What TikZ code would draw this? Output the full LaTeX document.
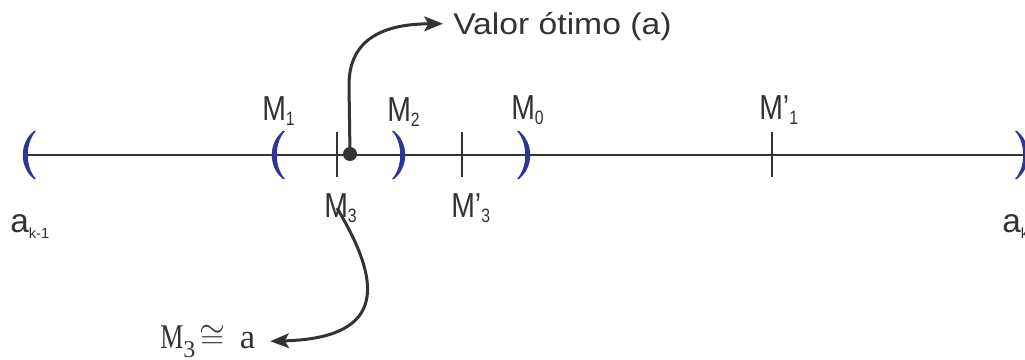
\documentclass[tikz,border=0pt]{standalone}
\usepackage{fontspec}
\setmainfont{Liberation Sans}
\newfontfamily\tnr{Liberation Serif}
\usetikzlibrary{arrows.meta}
\definecolor{ink}{RGB}{51,51,51}
\definecolor{pblue}{RGB}{48,52,148}
\newcommand{\Mlab}[2]{\scalebox{0.82}[1]{\fontsize{26}{26}\selectfont M#1\raisebox{-3.75pt}{\fontsize{14.5}{14.5}\selectfont #2}}}
\newcommand{\Alab}[1]{{\fontsize{25}{25}\selectfont a}\raisebox{-4.5pt}{\fontsize{11}{11}\selectfont #1}}
\tikzset{
  lbl/.style={inner sep=0pt, anchor=base west, text=ink},
  conn/.style={draw=ink, line width=2.25pt, -{Stealth[length=14pt,width=11pt,inset=3pt]}},
  axis/.style={draw=ink, line width=2.2pt},
  tick/.style={draw=ink, line width=2pt},
  lpar/.pic={\fill[pblue] (0,-24) .. controls (-15,-12) and (-15,12) .. (0,24) -- (2,24) .. controls (-9,12) and (-9,-12) .. (2,-24) -- cycle;},
  rpar/.pic={\fill[pblue] (0,-24) .. controls (15,-12) and (15,12) .. (0,24) -- (-2,24) .. controls (9,12) and (9,-12) .. (-2,-24) -- cycle;}
}
\begin{document}
\begin{tikzpicture}[x=0.75pt,y=-0.75pt]
\useasboundingbox (0,0) rectangle (1025,360);
\clip (0,0) rectangle (1025,360);
% axis
\coordinate (A) at (23,155);
\coordinate (B) at (1030,155);
\draw[axis] (A) -- (B);
% brackets
\pic at (34,155) {lpar};
\pic at (283,155) {lpar};
\pic at (394,155) {rpar};
\pic at (519,155) {rpar};
\pic at (1017,155) {rpar};
% ticks
\draw[tick] (337,132) -- (337,177);
\draw[tick] (462,132) -- (462,177);
\draw[tick] (772,132) -- (772,177);
% optimum point
\node[circle, fill=ink, inner sep=0pt, minimum size=10.5pt] (opt) at (350,154) {};
% labels
\node[lbl] (m1) at (262,121) {\Mlab{}{1}};
\node[lbl] (m2) at (387,122) {\Mlab{}{2}};
\node[lbl] (m0) at (511,120) {\Mlab{}{0}};
\node[lbl] (m1p) at (759,120) {\Mlab{’}{1}};
\node[lbl] (m3) at (324,217) {\Mlab{}{3}};
\node[lbl] (m3p) at (451,217) {\Mlab{’}{3}};
\node[lbl] (ak1) at (10,232) {\Alab{k-1}};
\node[lbl] (ak) at (1002,232) {\Alab{k}};
\node[lbl] (valor) at (453,35) {\scalebox{1.01}[0.9]{\fontsize{25}{25}\selectfont Valor ótimo (a)}};
\node[lbl] (eq) at (160,348) {\tnr\fontsize{26}{26}\selectfont\scalebox{0.75}[1]{M}\raisebox{-6.75pt}{\fontsize{18}{18}\selectfont 3}\hspace{3pt}$\cong$\hspace{11pt}a};
% connectors
\coordinate (m3s) at (337,208);
\draw[conn] (opt.center) -- (349,85) .. controls (349,38) and (385,24) .. ([xshift=-7.5pt,yshift=2.5pt]valor.west);
\draw[conn] (m3s) .. controls (380,280) and (390,338) .. ([xshift=11pt]eq.east);
\end{tikzpicture}
\end{document}
